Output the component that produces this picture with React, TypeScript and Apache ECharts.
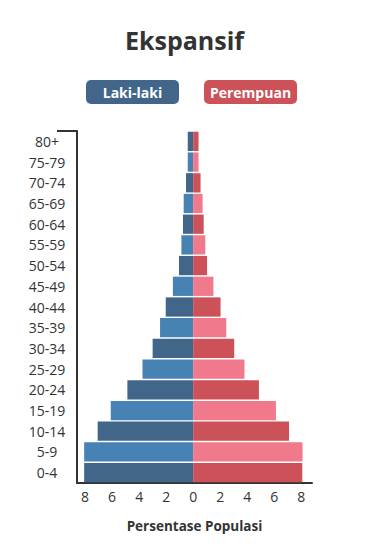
import React, { useEffect, useRef } from "react";
import * as echarts from "echarts";

const ageGroups = ["0-4", "5-9", "10-14", "15-19", "20-24", "25-29", "30-34", "35-39", "40-44", "45-49", "50-54", "55-59", "60-64", "65-69", "70-74", "75-79", "80+"];
const maleValues = [8.07, 8.07, 7.07, 6.1, 4.87, 3.75, 3.0, 2.45, 2.03, 1.5, 1.05, 0.87, 0.75, 0.7, 0.53, 0.4, 0.4];
const femaleValues = [8.08, 8.1, 7.1, 6.13, 4.87, 3.8, 3.04, 2.45, 2.03, 1.5, 1.03, 0.9, 0.78, 0.7, 0.55, 0.4, 0.4];
const xTickValues = [-8, -6, -4, -2, 0, 2, 4, 6, 8];
const titleText = "Ekspansif";
const maleLabel = "Laki-laki";
const femaleLabel = "Perempuan";
const xAxisName = "Persentase Populasi";

const MALE_DARK = "#41668A";
const MALE_LIGHT = "#4682B4";
const FEMALE_DARK = "#CD5158";
const FEMALE_LIGHT = "#F07A8B";
const FONT = "'Open Sans', sans-serif";

export default function App() {
  const ref = useRef<HTMLDivElement>(null);
  useEffect(() => {
    if (!ref.current) return;
    const chart = echarts.init(ref.current, null, { renderer: "svg" });
    const gridLeft = 77;
    const gridTop = 131;
    const gridWidth = 235;
    const gridHeight = 352;
    chart.setOption({
      animation: false,
      backgroundColor: "#ffffff",
      textStyle: { fontFamily: FONT },
      title: {
        text: titleText,
        left: "center",
        top: 22,
        textStyle: { fontSize: 25, fontWeight: "bold", color: "#333333", fontFamily: FONT },
      },
      grid: { left: gridLeft, top: gridTop, width: gridWidth, height: gridHeight },
      xAxis: {
        type: "value",
        min: -8.6,
        max: 8.8,
        splitLine: { show: false },
        axisTick: { show: false },
        axisLine: { show: true, lineStyle: { color: "#333333", width: 2 } },
        axisLabel: {
          customValues: xTickValues,
          formatter: (v: number) => String(Math.abs(v)),
          color: "#333333",
          fontSize: 14,
          margin: 6,
          fontFamily: FONT,
        },
        name: xAxisName,
        nameLocation: "middle",
        nameGap: 36,
        nameTextStyle: { fontSize: 13.5, fontWeight: "bold", color: "#333333", fontFamily: FONT },
      },
      yAxis: {
        type: "category",
        data: ageGroups,
        axisTick: { show: false },
        axisLine: { show: true, onZero: false, lineStyle: { color: "#333333", width: 2 } },
        axisLabel: { align: "center", margin: 30, color: "#333333", fontSize: 14, fontFamily: FONT },
      },
      series: [
        {
          name: maleLabel,
          type: "bar",
          stack: "pop",
          barCategoryGap: "7%",
          data: maleValues.map((v) => -v),
          itemStyle: {
            color: (p: any) => (p.dataIndex % 2 === 0 ? MALE_DARK : MALE_LIGHT),
          },
        },
        {
          name: femaleLabel,
          type: "bar",
          stack: "pop",
          barCategoryGap: "7%",
          data: femaleValues,
          itemStyle: {
            color: (p: any) => (p.dataIndex % 2 === 0 ? FEMALE_DARK : FEMALE_LIGHT),
          },
        },
      ],
      graphic: [
        {
          type: "line",
          shape: { x1: 57, y1: gridTop, x2: gridLeft, y2: gridTop },
          style: { stroke: "#333333", lineWidth: 2 },
        },
        {
          type: "rect",
          shape: { x: 86, y: 80, width: 93, height: 24, r: 5 },
          style: { fill: MALE_DARK },
        },
        {
          type: "text",
          x: 132.5,
          y: 92,
          style: { text: maleLabel, fill: "#ffffff", font: `bold 14px ${FONT}`, align: "center", verticalAlign: "middle" },
        },
        {
          type: "rect",
          shape: { x: 204, y: 80, width: 93, height: 24, r: 5 },
          style: { fill: FEMALE_DARK },
        },
        {
          type: "text",
          x: 250.5,
          y: 92,
          style: { text: femaleLabel, fill: "#ffffff", font: `bold 14px ${FONT}`, align: "center", verticalAlign: "middle" },
        },
      ],
    });
    return () => chart.dispose();
  }, []);
  return <div ref={ref} style={{ width: 369, height: 557, position: "absolute", left: 0, top: 0 }} />;
}
